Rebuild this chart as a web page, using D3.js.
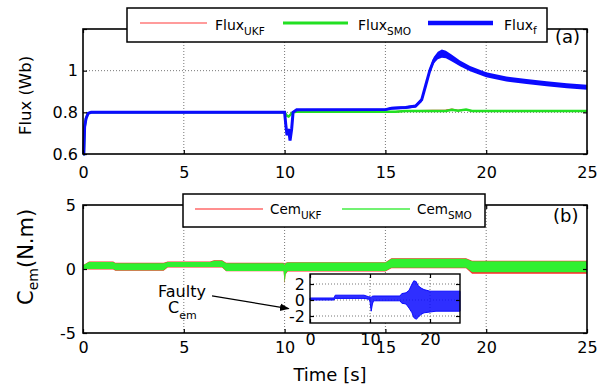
<!DOCTYPE html>
<html><head><meta charset="utf-8">
<script src="https://cdn.jsdelivr.net/npm/d3@7"></script>
<style>
body{margin:0;background:#fff;}
text{font-family:"DejaVu Sans",sans-serif;fill:#000;}
</style></head><body>
<svg id="c" width="604" height="389"></svg>
<script>
// ---------- DATA ----------
const xTicks = [0, 5, 10, 15, 20, 25];
const fluxTicks = [0.6, 0.8, 1, 1.2];
const cemTicks = [-5, 0, 5];
const insetXTicks = [0, 10, 20];
const insetYTicks = [-2, 0, 2];

// (a) Flux_f (blue): time, centre, half band width
const fluxT  = [0, 0.04, 0.08, 0.15, 0.25, 0.4, 10.0, 10.06, 10.12, 10.2, 10.27, 10.35, 10.42, 10.6, 15.0, 15.3, 16.0, 16.5, 16.8, 17.0, 17.2, 17.4, 17.6, 17.8, 18.0, 18.3, 18.7, 19.2, 20.0, 21.0, 22.0, 23.0, 24.0, 25.0];
const fluxF  = [0.6, 0.6, 0.73, 0.77, 0.795, 0.8, 0.8, 0.74, 0.69, 0.72, 0.665, 0.72, 0.8, 0.812, 0.813, 0.82, 0.823, 0.83, 0.86, 0.93, 1.0, 1.05, 1.073, 1.082, 1.078, 1.06, 1.035, 1.01, 0.98, 0.96, 0.948, 0.937, 0.928, 0.92];
const fluxFw = [0.004, 0.004, 0.004, 0.004, 0.004, 0.004, 0.004, 0.004, 0.004, 0.004, 0.004, 0.004, 0.004, 0.004, 0.004, 0.006, 0.006, 0.007, 0.01, 0.012, 0.014, 0.016, 0.018, 0.02, 0.018, 0.016, 0.014, 0.013, 0.012, 0.012, 0.012, 0.012, 0.012, 0.012];
// (a) Flux_SMO (green) and Flux_UKF (red)
const smoT   = [0, 0.04, 0.08, 0.15, 0.25, 0.4, 10.0, 10.1, 10.2, 10.4, 10.6, 15.5, 16.0, 18.0, 18.3, 18.6, 19.0, 19.3, 25.0];
const fluxSmo = [0.6, 0.6, 0.73, 0.77, 0.795, 0.8, 0.8, 0.785, 0.78, 0.8, 0.803, 0.803, 0.806, 0.806, 0.812, 0.808, 0.813, 0.806, 0.806];
const fluxUkf = [0.6, 0.6, 0.73, 0.77, 0.795, 0.8, 0.8, 0.785, 0.78, 0.8, 0.803, 0.803, 0.806, 0.81, 0.815, 0.809, 0.812, 0.806, 0.806];

// (b) Cem envelopes (upper/lower)
const cemT     = [0, 0.3, 1.5, 1.6, 4.0, 4.2, 6.3, 6.5, 6.9, 7.1, 9.95, 10.0, 10.05, 10.15, 10.3, 15.0, 15.3, 19.0, 19.3, 25.0];
const cemSmoHi = [0.3, 0.55, 0.55, 0.45, 0.45, 0.55, 0.55, 0.65, 0.65, 0.45, 0.45, 0.3, 0.45, 0.5, 0.5, 0.5, 0.8, 0.8, 0.6, 0.6];
const cemSmoLo = [0.0, 0.0, 0.0, -0.1, -0.1, 0.15, 0.15, 0.15, 0.15, -0.15, -0.15, -1.1, -0.4, -0.15, -0.15, -0.15, 0.1, 0.1, -0.25, -0.25];
const cemUkfHi = [0.3, 0.58, 0.58, 0.48, 0.48, 0.58, 0.58, 0.68, 0.68, 0.48, 0.48, 0.33, 0.48, 0.53, 0.53, 0.53, 0.84, 0.84, 0.64, 0.64];
const cemUkfLo = [0.0, -0.03, -0.03, -0.13, -0.13, 0.12, 0.12, 0.12, 0.12, -0.18, -0.18, -1.15, -0.43, -0.2, -0.2, -0.2, 0.05, 0.05, -0.38, -0.38];

// inset: faulty Cem envelope
const inT  = [0, 4.0, 4.2, 9.0, 9.8, 10.0, 10.2, 10.4, 10.6, 15.0, 15.3, 16.0, 16.5, 17.0, 17.3, 17.7, 18.0, 18.5, 19.0, 20.0, 21.0, 25.0];
const inHi = [0.25, 0.25, 0.6, 0.6, 0.4, 0.4, 0.3, 0.5, 0.5, 0.5, 0.8, 0.9, 1.2, 2.0, 2.4, 2.3, 1.8, 1.5, 1.3, 1.1, 1.1, 1.1];
const inLo = [0.0, 0.0, 0.2, 0.2, 0.1, -0.2, -1.4, -0.5, -0.1, -0.1, -0.4, -0.5, -1.0, -1.6, -2.2, -2.4, -2.2, -1.8, -1.6, -1.5, -1.4, -1.4];

// ---------- DRAWING ----------
const svg = d3.select("#c");
const xA = d3.scaleLinear([0, 25], [83, 587]);
const yA = d3.scaleLinear([0.6, 1.2], [154, 29]);
const xB = d3.scaleLinear([0, 25], [83, 587]);
const yB = d3.scaleLinear([-5, 5], [333, 205]);
const xI = d3.scaleLinear([0, 25], [310, 460]);
const yI = d3.scaleLinear([-2.875, 3.25], [323, 274]);

const BLUE = "#0b0bff", GREEN = "#22e022", GREEN2 = "#30f030", RED = "#ff2a2a";

function grid(g, x, y, xv, yv) {
  xv.forEach(v => g.append("line").attr("x1", x(v)).attr("x2", x(v))
    .attr("y1", y.range()[0]).attr("y2", y.range()[1])
    .attr("stroke", "#777").attr("stroke-width", 1).attr("stroke-dasharray", "1,2"));
  yv.forEach(v => g.append("line").attr("y1", y(v)).attr("y2", y(v))
    .attr("x1", x.range()[0]).attr("x2", x.range()[1])
    .attr("stroke", "#777").attr("stroke-width", 1).attr("stroke-dasharray", "1,2"));
}
function frame(g, x, y, sw) {
  g.append("rect").attr("x", x.range()[0]).attr("y", y.range()[1])
    .attr("width", x.range()[1] - x.range()[0]).attr("height", y.range()[0] - y.range()[1])
    .attr("fill", "none").attr("stroke", "#000").attr("stroke-width", sw);
}
function axes(g, x, y, xt, yt, yfmt, xpad, ypad, fs) {
  const style = sel => {
    sel.select(".domain").remove();
    sel.selectAll("line").attr("stroke", "#000").attr("stroke-width", 1.2);
    sel.selectAll("text").attr("font-size", fs).attr("font-family", "DejaVu Sans").attr("fill", "#000");
  };
  g.append("g").attr("transform", `translate(0,${y.range()[0]})`)
    .call(d3.axisBottom(x).tickValues(xt).tickSize(-4).tickPadding(xpad).tickFormat(d => String(d))).call(style);
  g.append("g").attr("transform", `translate(0,${y.range()[1]})`)
    .call(d3.axisTop(x).tickValues(xt).tickSize(-4).tickFormat("")).call(style);
  g.append("g").attr("transform", `translate(${x.range()[0]},0)`)
    .call(d3.axisLeft(y).tickValues(yt).tickSize(-4).tickPadding(ypad).tickFormat(yfmt)).call(style);
  g.append("g").attr("transform", `translate(${x.range()[1]},0)`)
    .call(d3.axisRight(y).tickValues(yt).tickSize(-4).tickFormat("")).call(style);
}
function subText(g, x, y, main, sub, fs, sfs, dy, anchor) {
  const t = g.append("text").attr("x", x).attr("y", y).attr("font-size", fs);
  if (anchor) t.attr("text-anchor", anchor);
  t.append("tspan").text(main);
  t.append("tspan").attr("font-size", sfs).attr("dy", dy).text(sub);
  return t;
}

// ===== (a) Flux =====
const gA = svg.append("g");
grid(gA, xA, yA, [5, 10, 15, 20], [0.8, 1]);
const lineA = (T, V) => d3.line().x((d, i) => xA(T[i])).y(d => yA(d))(V);
gA.append("path").attr("d", lineA(smoT, fluxUkf)).attr("fill", "none").attr("stroke", RED).attr("stroke-width", 1.5);
gA.append("path").attr("d", lineA(smoT, fluxSmo)).attr("fill", "none").attr("stroke", GREEN).attr("stroke-width", 2.5);
gA.append("path").attr("d", d3.area().x((d, i) => xA(fluxT[i])).y0((d, i) => yA(d - fluxFw[i])).y1((d, i) => yA(d + fluxFw[i]))(fluxF))
  .attr("fill", BLUE);
gA.append("path").attr("d", lineA(fluxT, fluxF)).attr("fill", "none").attr("stroke", BLUE).attr("stroke-width", 3);
frame(gA, xA, yA, 1.6);
axes(gA, xA, yA, xTicks, fluxTicks, d => d === 1.2 ? "" : String(d), 12.5, 5, 16);
gA.append("text").attr("transform", `translate(31,${(yA.range()[0] + yA.range()[1]) / 2 + 4}) rotate(-90)`)
  .attr("text-anchor", "middle").attr("font-size", 16.5).text("Flux (Wb)");
gA.append("text").attr("x", 555).attr("y", 43).attr("font-size", 18).text("(a)");

// legend (a)
const lgA = svg.append("g");
lgA.append("rect").attr("x", 127).attr("y", 8).attr("width", 420).attr("height", 34)
  .attr("fill", "#fff").attr("stroke", "#000").attr("stroke-width", 1.5);
lgA.append("line").attr("x1", 140).attr("x2", 207).attr("y1", 23).attr("y2", 23).attr("stroke", "#ff7a7a").attr("stroke-width", 1.5);
subText(lgA, 215, 30, "Flux", "UKF", 14, 10.5, 5);
lgA.append("line").attr("x1", 283).attr("x2", 348).attr("y1", 23).attr("y2", 23).attr("stroke", GREEN).attr("stroke-width", 3);
subText(lgA, 358, 30, "Flux", "SMO", 14, 10.5, 5);
lgA.append("line").attr("x1", 428).attr("x2", 493).attr("y1", 23).attr("y2", 23).attr("stroke", BLUE).attr("stroke-width", 4.5);
subText(lgA, 504, 30, "Flux", "f", 14, 10.5, 4);

// ===== (b) Cem =====
const gB = svg.append("g");
grid(gB, xB, yB, [5, 10, 15, 20], []);
const bandB = (Hi, Lo) => d3.area().x((d, i) => xB(cemT[i])).y0((d, i) => yB(Lo[i])).y1(d => yB(d))(Hi);
gB.append("path").attr("d", bandB(cemUkfHi, cemUkfLo)).attr("fill", RED);
gB.append("path").attr("d", bandB(cemSmoHi, cemSmoLo)).attr("fill", GREEN2);
frame(gB, xB, yB, 1.6);
axes(gB, xB, yB, xTicks, cemTicks, d => String(d), 8.5, 7, 16);
const yl = gB.append("text").attr("transform", `translate(33,305) rotate(-90)`).attr("font-size", 21);
yl.append("tspan").text("C");
yl.append("tspan").attr("font-size", 14).attr("dy", 5).text("em");
yl.append("tspan").attr("dy", -5).text("(N.m)");
gB.append("text").attr("x", 553).attr("y", 222).attr("font-size", 18).text("(b)");
gB.append("text").attr("x", 330).attr("y", 381).attr("text-anchor", "middle").attr("font-size", 18).text("Time [s]");

// legend (b)
const lgB = svg.append("g");
lgB.append("rect").attr("x", 183).attr("y", 194).attr("width", 302).attr("height", 33)
  .attr("fill", "#fff").attr("stroke", "#000").attr("stroke-width", 1.5);
lgB.append("line").attr("x1", 195).attr("x2", 263).attr("y1", 209).attr("y2", 209).attr("stroke", "#ff6a6a").attr("stroke-width", 1.5);
subText(lgB, 270, 214, "Cem", "UKF", 13.5, 10.5, 5);
lgB.append("line").attr("x1", 342).attr("x2", 410).attr("y1", 209).attr("y2", 209).attr("stroke", "#44ee44").attr("stroke-width", 1.5);
subText(lgB, 417, 214, "Cem", "SMO", 13.5, 10.5, 5);

// ===== inset =====
const gI = svg.append("g");
gI.append("rect").attr("x", 310).attr("y", 274).attr("width", 150).attr("height", 49).attr("fill", "#fff");
grid(gI, xI, yI, [10, 20], [-2, 0, 2]);
gI.append("path").attr("d", d3.area().x((d, i) => xI(inT[i])).y0((d, i) => yI(inLo[i])).y1(d => yI(d))(inHi))
  .attr("fill", BLUE).attr("fill-opacity", 0.85).attr("stroke", BLUE).attr("stroke-width", 1);
frame(gI, xI, yI, 1.4);
axes(gI, xI, yI, insetXTicks, insetYTicks, d => String(d), 10.5, 5, 16);

// annotation
const ann = svg.append("g");
ann.append("text").attr("x", 158).attr("y", 297).attr("font-size", 16).text("Faulty");
subText(ann, 168, 313, "C", "em", 16, 11, 6);
svg.append("defs").append("marker").attr("id", "ah").attr("viewBox", "0 0 10 10").attr("refX", 9).attr("refY", 5)
  .attr("markerWidth", 8).attr("markerHeight", 8).attr("orient", "auto")
  .append("path").attr("d", "M0,1 L10,5 L0,9 Z").attr("fill", "#000");
ann.append("line").attr("x1", xB(6.4)).attr("y1", yB(-2.1)).attr("x2", xB(10.2)).attr("y2", yB(-3.1))
  .attr("stroke", "#000").attr("stroke-width", 1.2).attr("marker-end", "url(#ah)");
</script>
</body></html>
